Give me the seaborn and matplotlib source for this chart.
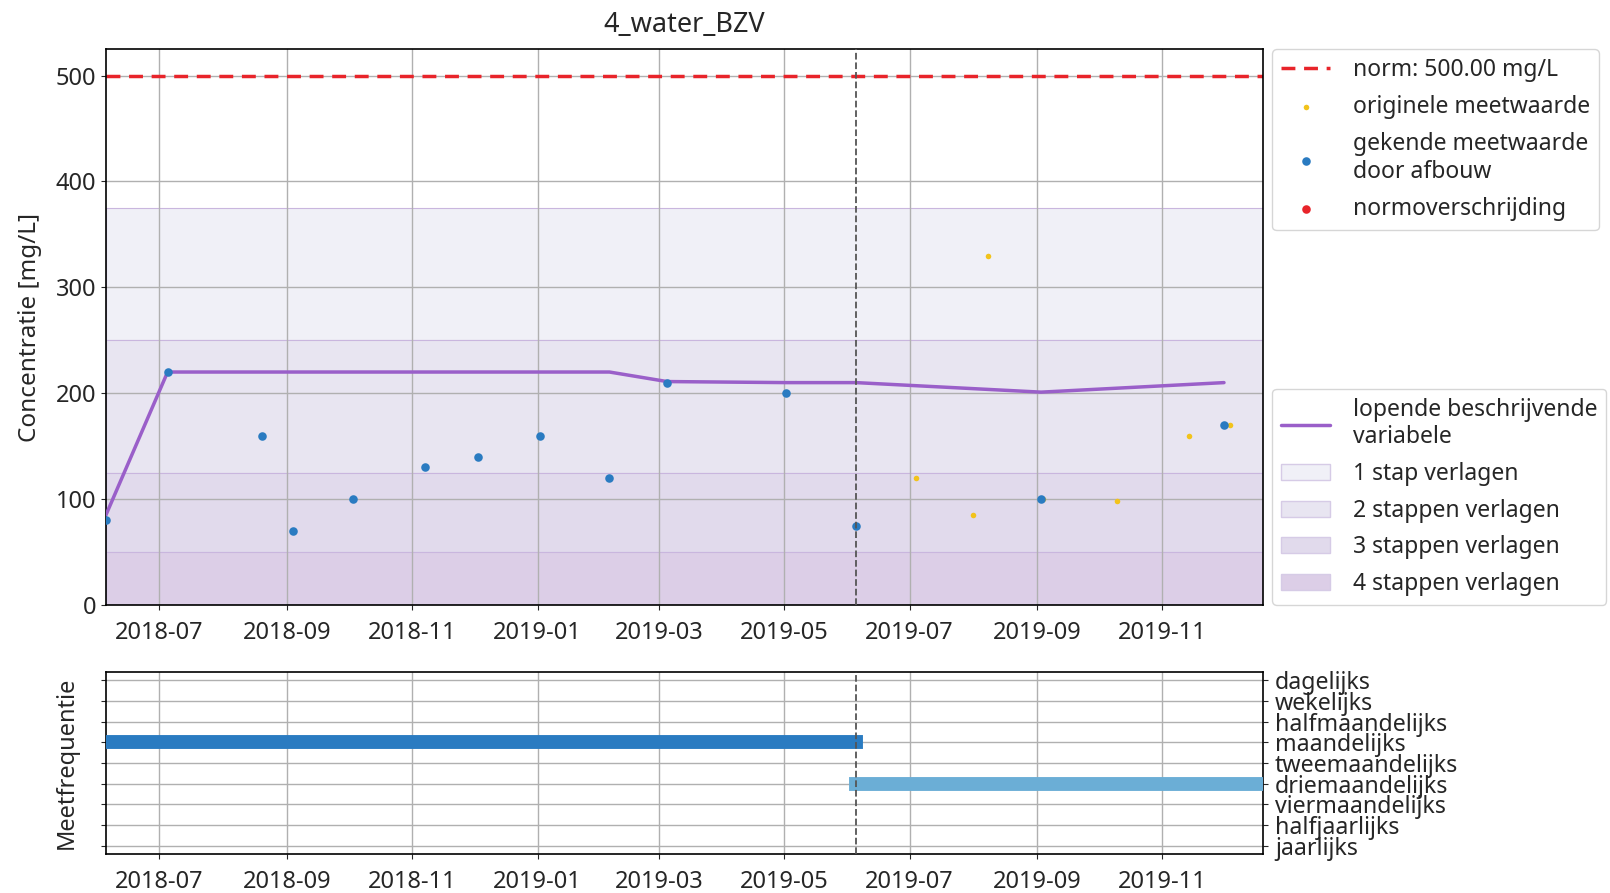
import pandas as pd
import matplotlib
matplotlib.use("Agg")
from matplotlib import pyplot as plt
import matplotlib.dates as mdates
from matplotlib.patches import Patch
import seaborn as sb

title = "4_water_BZV"
norm = 500.0
x_start = "2018-06-05"
x_end = "2019-12-20"
afbouw_date = "2019-06-05"

# gekende meetwaarden (na afbouw)
known_dates = ["2018-06-05", "2018-07-05", "2018-08-20", "2018-09-04", "2018-10-03",
               "2018-11-07", "2018-12-03", "2019-01-02", "2019-02-05", "2019-03-05",
               "2019-05-02", "2019-06-05", "2019-09-03", "2019-12-01"]
known_values = [80, 220, 160, 70, 100, 130, 140, 160, 120, 210, 200, 75, 100, 170]

# originele meetwaarden
orig_dates = known_dates[:12] + ["2019-07-04", "2019-08-01", "2019-08-08", "2019-09-04",
                                 "2019-10-10", "2019-11-14", "2019-12-04"]
orig_values = known_values[:12] + [120, 85, 330, 100, 98, 160, 170]

# lopende beschrijvende variabele
running_values = [85, 220, 220, 220, 220, 220, 220, 220, 220, 211, 210, 210, 201, 210]

# stappen verlagen
band_labels = ["1 stap verlagen", "2 stappen verlagen", "3 stappen verlagen", "4 stappen verlagen"]
band_upper = [375, 250, 125, 50]
band_lower = [250, 125, 50, 0]
band_colors = ["#f0f0f7", "#e8e5f1", "#e1daec", "#dccee7"]

freq_labels = ["dagelijks", "wekelijks", "halfmaandelijks", "maandelijks", "tweemaandelijks",
               "driemaandelijks", "viermaandelijks", "halfjaarlijks", "jaarlijks"]
freq_start = [x_start, afbouw_date]
freq_end = [afbouw_date, x_end]
freq_value = ["maandelijks", "driemaandelijks"]
freq_colors = ["#2a7bc1", "#6baed6"]


def main():
    sb.set_style("ticks")
    plt.rcParams['font.family'] = ['Noto Sans', 'DejaVu Sans']
    plt.rcParams['font.size'] = 17

    df_known = pd.DataFrame({"date": pd.to_datetime(known_dates), "value": known_values,
                             "running": running_values})
    df_orig = pd.DataFrame({"date": pd.to_datetime(orig_dates), "value": orig_values})
    df_exceed = df_orig[df_orig["value"] > norm]

    fig = plt.figure(figsize=(16.1, 8.93), dpi=100)
    ax = fig.add_axes([0.0658, 0.3225, 0.7187, 0.6226])
    ax2 = fig.add_axes([0.0658, 0.0437, 0.7187, 0.2038])

    # banden
    band_handles = []
    for lo, hi, col, lab in zip(band_lower, band_upper, band_colors, band_labels):
        ax.axhspan(lo, hi, facecolor=col, edgecolor="#c9b6de", linewidth=0.8, zorder=0)
        band_handles.append(Patch(facecolor=col, edgecolor="#d6cbe6", label=lab))

    norm_line = ax.axhline(norm, color="#e8242a", linestyle="--", linewidth=2.5, dashes=(4, 2.5),
                           label=f"norm: {norm:.2f} mg/L")

    run_line, = ax.plot(df_known["date"], df_known["running"], color="#9a5fc9", linewidth=2.5,
                        label="lopende beschrijvende\nvariabele", zorder=3)

    sb.scatterplot(data=df_orig, x="date", y="value", ax=ax, color="#f2c31b", s=16,
                   linewidth=0, zorder=4, legend=False)
    sb.scatterplot(data=df_known, x="date", y="value", ax=ax, color="#2a7bc1", s=38,
                   linewidth=0, zorder=5, legend=False)
    h_orig = ax.scatter(df_orig["date"][:0], df_orig["value"][:0], color="#f2c31b", s=16,
                        linewidth=0)
    h_known = ax.scatter(df_known["date"][:0], df_known["value"][:0], color="#2a7bc1", s=38,
                         linewidth=0)
    h_exceed = ax.scatter(df_exceed["date"], df_exceed["value"], color="#e8242a", s=38,
                          linewidth=0, zorder=6)

    ax.axvline(pd.Timestamp(afbouw_date), color="#555555", linestyle="--", linewidth=1.3, zorder=6)

    ax.set_xlim(pd.Timestamp(x_start), pd.Timestamp(x_end))
    ax.set_ylim(0, 525)
    ax.set_yticks([0, 100, 200, 300, 400, 500])
    ax.set_title(title, fontsize=19.5, pad=12)
    ax.set_xlabel("")
    ax.set_ylabel("Concentratie [mg/L]", fontsize=17.5, labelpad=10)
    ax.grid(True, color="#b0b0b0", linewidth=1)
    ax.xaxis.set_major_locator(mdates.MonthLocator(bymonth=[1, 3, 5, 7, 9, 11]))
    ax.xaxis.set_major_formatter(mdates.DateFormatter("%Y-%m"))
    ax.tick_params(axis="x", pad=8)

    leg_kw = dict(borderaxespad=0, fontsize=16.5, handlelength=2.1, handletextpad=1.0,
                  frameon=True, edgecolor="#cccccc", fancybox=True)
    leg1 = ax.legend([norm_line, h_orig, h_known, h_exceed],
                     [norm_line.get_label(), "originele meetwaarde",
                      "gekende meetwaarde\ndoor afbouw", "normoverschrijding"],
                     loc="upper left", bbox_to_anchor=(1.008, 1.0), labelspacing=0.57, **leg_kw)
    ax.add_artist(leg1)
    ax.legend([run_line] + band_handles, [run_line.get_label()] + band_labels,
              loc="lower left", bbox_to_anchor=(1.008, 0.0), labelspacing=0.55, **leg_kw)

    for sp in ax.spines.values():
        sp.set_color("black")
        sp.set_linewidth(1.2)

    # meetfrequentie
    ypos = {lab: i for i, lab in enumerate(freq_labels)}
    for s, e, v, c in zip(freq_start, freq_end, freq_value, freq_colors):
        ax2.plot([pd.Timestamp(s), pd.Timestamp(e)], [ypos[v], ypos[v]], color=c,
                 linewidth=10, solid_capstyle="projecting", zorder=3)
    ax2.axvline(pd.Timestamp(afbouw_date), color="#555555", linestyle="--", linewidth=1.3, zorder=4)
    ax2.set_xlim(pd.Timestamp(x_start), pd.Timestamp(x_end))
    ax2.set_yticks(range(len(freq_labels)))
    ax2.set_yticklabels(freq_labels, fontsize=16.7)
    ax2.set_ylim(len(freq_labels) - 0.6, -0.4)
    ax2.tick_params(axis="y", left=True, right=True, labelleft=False, labelright=True, pad=5)
    ax2.tick_params(axis="x", pad=8)
    ax2.set_ylabel("Meetfrequentie", fontsize=17, labelpad=16)
    ax2.grid(True, color="#b0b0b0", linewidth=1)
    ax2.xaxis.set_major_locator(mdates.MonthLocator(bymonth=[1, 3, 5, 7, 9, 11]))
    ax2.xaxis.set_major_formatter(mdates.DateFormatter("%Y-%m"))
    for sp in ax2.spines.values():
        sp.set_color("black")
        sp.set_linewidth(1.2)

    plt.savefig("out.png", dpi=100)
    plt.clf()


if __name__ == "__main__":
    main()
